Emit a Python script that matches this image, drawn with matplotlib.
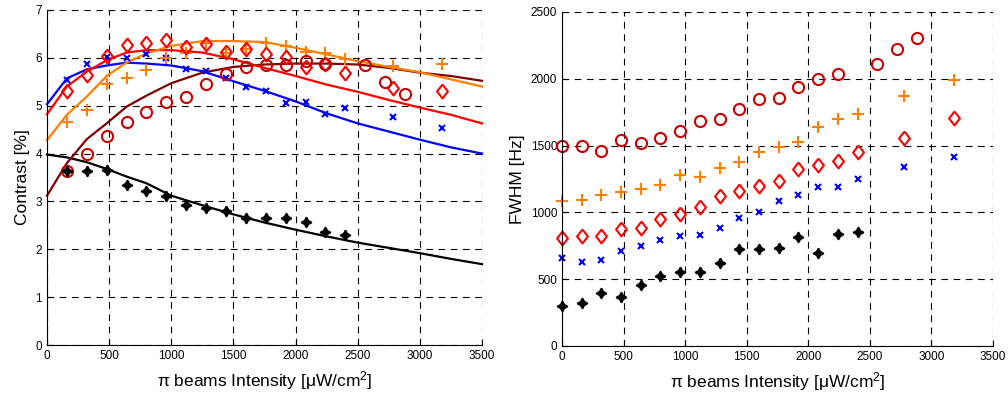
import numpy as np
import matplotlib.pyplot as plt

plt.rcParams['font.family'] = ['Liberation Sans', 'DejaVu Sans']
plt.rcParams['mathtext.fontset'] = 'custom'
plt.rcParams['mathtext.rm'] = 'Liberation Sans'

# ---- left panel: contrast data ----
xc = [160, 320, 480, 640, 800, 960, 1120, 1280, 1440, 1600, 1760, 1920, 2080, 2240, 2400, 2780, 3180]
c_blue = [5.53, 5.88, 6.02, 6.00, 6.09, 6.00, 5.76, 5.73, 5.57, 5.39, 5.30, 5.05, 5.07, 4.82, 4.95, 4.77, 4.53]
c_orange = [4.65, 4.90, 5.45, 5.58, 5.74, 6.00, 6.11, 6.30, 6.11, 6.19, 6.30, 6.25, 6.13, 6.11, 5.98, 5.83, 5.88]
c_red = [5.31, 5.65, 6.04, 6.27, 6.30, 6.37, 6.23, 6.28, 6.12, 6.19, 6.07, 6.02, 5.81, 5.88, 5.69, 5.37, 5.30]
xc_circ = [160, 320, 480, 640, 800, 960, 1120, 1280, 1440, 1600, 1760, 1920, 2080, 2240, 2560, 2720, 2880]
c_circ = [3.63, 3.99, 4.36, 4.65, 4.86, 5.07, 5.19, 5.45, 5.66, 5.81, 5.85, 5.85, 5.93, 5.88, 5.86, 5.50, 5.24]
xc_star = [160, 320, 480, 640, 800, 960, 1120, 1280, 1440, 1600, 1760, 1920, 2080, 2240, 2400]
c_star = [3.63, 3.63, 3.66, 3.34, 3.21, 3.11, 2.92, 2.86, 2.81, 2.65, 2.65, 2.65, 2.58, 2.37, 2.29]

# fitted curves
xf = [0, 160, 320, 480, 640, 800, 1000, 1250, 1500, 1750, 2000, 2250, 2500, 2750, 3000, 3250, 3500]
f_blue = [5.03, 5.57, 5.76, 5.84, 5.90, 5.88, 5.84, 5.72, 5.51, 5.31, 5.09, 4.84, 4.63, 4.46, 4.29, 4.13, 4.00]
f_red = [4.82, 5.40, 5.71, 5.95, 6.11, 6.16, 6.16, 6.11, 5.97, 5.79, 5.62, 5.44, 5.29, 5.12, 4.96, 4.81, 4.63]
f_orange = [4.28, 4.81, 5.19, 5.62, 5.90, 6.09, 6.25, 6.35, 6.35, 6.33, 6.21, 6.07, 5.93, 5.81, 5.70, 5.55, 5.40]
f_dark = [3.12, 3.80, 4.30, 4.63, 4.98, 5.21, 5.47, 5.69, 5.81, 5.86, 5.88, 5.88, 5.86, 5.79, 5.69, 5.62, 5.52]
f_black = [3.98, 3.92, 3.82, 3.68, 3.52, 3.38, 3.12, 2.92, 2.73, 2.56, 2.41, 2.27, 2.14, 2.03, 1.92, 1.80, 1.69]

# ---- right panel: FWHM data ----
xw = [0, 160, 320, 480, 640, 800, 960, 1120, 1280, 1440, 1600, 1760, 1920, 2080, 2240, 2400, 2780, 3180]
w_plus = [1082, 1094, 1131, 1154, 1174, 1206, 1280, 1263, 1330, 1379, 1455, 1492, 1530, 1635, 1697, 1737, 1867, 1992]
w_diam = [804, 826, 819, 878, 883, 953, 988, 1040, 1119, 1156, 1198, 1231, 1322, 1355, 1387, 1454, 1555, 1705]
w_x = [655, 630, 640, 707, 745, 789, 819, 831, 886, 958, 1002, 1084, 1131, 1188, 1188, 1253, 1342, 1417]
xw_circ = [0, 160, 320, 480, 640, 800, 960, 1120, 1280, 1440, 1600, 1760, 1920, 2080, 2240, 2560, 2720, 2880]
w_circ = [1500, 1500, 1462, 1542, 1522, 1555, 1605, 1687, 1702, 1775, 1850, 1857, 1935, 2000, 2037, 2112, 2222, 2305]
xw_star = [0, 160, 320, 480, 640, 800, 960, 1120, 1280, 1440, 1600, 1760, 1920, 2080, 2240, 2400]
w_star = [301, 323, 395, 368, 454, 521, 556, 556, 618, 722, 722, 735, 816, 697, 841, 851]

blue = (0, 0, 1)
orange = (1, 0.5, 0)
red = (1, 0, 0)
circ_red = (0.8, 0, 0)
dark = (0.5, 0, 0)
star = (4, 1, 0)
diamond = [(0, 1), (0.78, 0), (0, -1), (-0.78, 0), (0, 1)]

fig = plt.figure(figsize=(10.08, 3.98), dpi=100)
ax1 = fig.add_axes([0.0466, 0.133, 0.4316, 0.842])
ax2 = fig.add_axes([0.5575, 0.131, 0.4276, 0.839])

xlab = r'π beams Intensity [μW/cm$\mathregular{^2}$]'


def style(ax):
    ax.grid(True, color='black', linestyle=(0, (6, 5)), linewidth=0.8)
    ax.set_axisbelow(True)
    for s in ['top', 'right']:
        ax.spines[s].set_visible(False)
    ax.tick_params(direction='in', labelsize=8.5, length=4)
    ax.set_xlim(0, 3500)
    ax.set_xticks(np.arange(0, 3501, 500))
    ax.set_xlabel(xlab, fontsize=12.5, labelpad=5)


# left
ax1.plot(xf, f_black, color='black', lw=1.6)
ax1.plot(xf, f_dark, color=dark, lw=1.6)
ax1.plot(xf, f_blue, color=blue, lw=1.6)
ax1.plot(xf, f_red, color=red, lw=1.6)
ax1.plot(xf, f_orange, color=orange, lw=1.6)
ax1.plot(xc, c_blue, 'x', color=blue, ms=4, mew=1.5)
ax1.plot(xc, c_orange, '+', color=orange, ms=9, mew=1.5)
ax1.plot(xc, c_red, marker=diamond, ls='none', mfc='none', mec=red, ms=10, mew=1.5)
ax1.plot(xc_circ, c_circ, 'o', mfc='none', mec=circ_red, ms=8, mew=1.5)
ax1.plot(xc_star, c_star, marker=star, ls='none', color='black', ms=7.5, mew=1.2)
ax1.set_ylim(0, 7)
ax1.set_yticks(range(8))
ax1.set_ylabel('Contrast [%]', fontsize=12.5, labelpad=4)
style(ax1)

# right
ax2.plot(xw, w_x, 'x', color=blue, ms=4, mew=1.5)
ax2.plot(xw, w_plus, '+', color=orange, ms=9, mew=1.5)
ax2.plot(xw, w_diam, marker=diamond, ls='none', mfc='none', mec=red, ms=10, mew=1.5)
ax2.plot(xw_circ, w_circ, 'o', mfc='none', mec=circ_red, ms=8, mew=1.5)
ax2.plot(xw_star, w_star, marker=star, ls='none', color='black', ms=7.5, mew=1.2)
ax2.set_ylim(0, 2500)
ax2.set_yticks(range(0, 2501, 500))
ax2.set_ylabel('FWHM [Hz]', fontsize=12.5, labelpad=4)
style(ax2)
for a in (ax1, ax2):
    for ln in a.lines:
        ln.set_clip_on(False)

fig.savefig('out.png', dpi=100)
